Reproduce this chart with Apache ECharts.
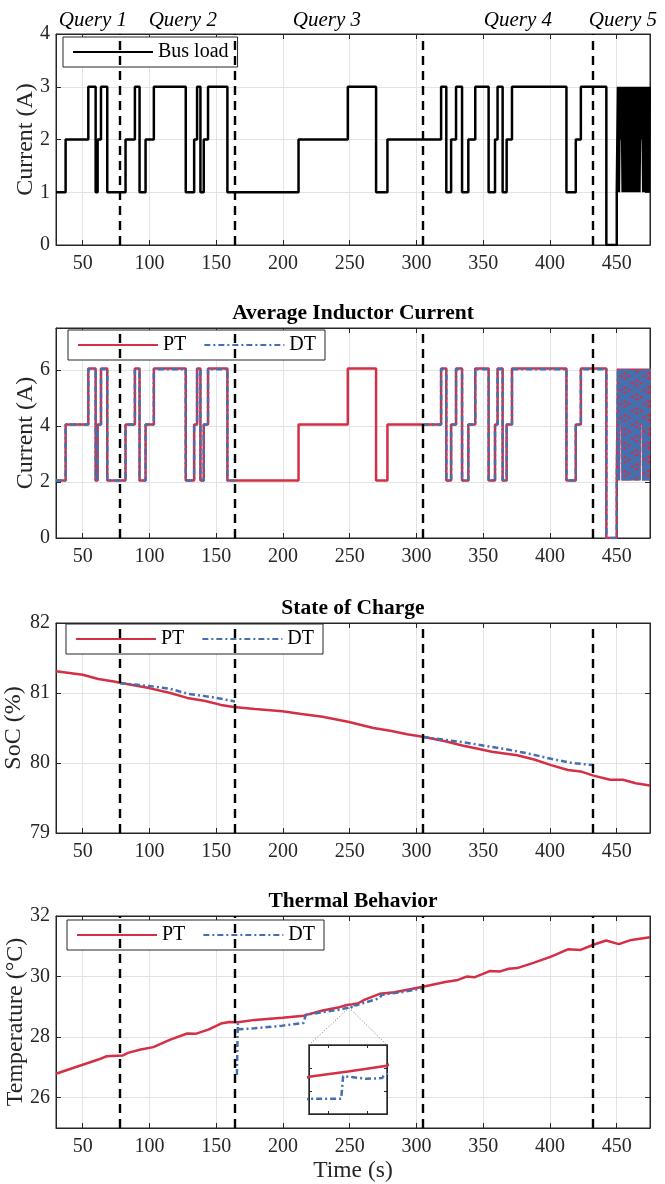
<!DOCTYPE html>
<html>
<head>
<meta charset="utf-8">
<script src="https://cdn.jsdelivr.net/npm/echarts@6/dist/echarts.min.js"></script>
<style>
html, body { margin: 0; padding: 0; background: #fff; }
#chart { width: 665px; height: 1184px; }
</style>
</head>
<body>
<div id="chart"></div>
<script>
// query boundaries (s) and labels
const queryBounds = [78, 164, 305, 432]
const queryNames = ['Query 1', 'Query 2', 'Query 3', 'Query 4', 'Query 5']
const queryLabelAt = [57.7, 125, 233, 376, 454.7]

// tick values
const xTicks = [50, 100, 150, 200, 250, 300, 350, 400, 450]
const loadTicks = [0, 1, 2, 3, 4]
const inductorTicks = [0, 2, 4, 6]
const socTicks = [79, 80, 81, 82]
const tempTicks = [26, 28, 30, 32]
const insetXTicks = [250, 254]
const insetYTicks = [29.0, 29.1]

// bus load, step changes (time, level)
const loadTime = [30, 37.2, 54.2, 59.7, 61.2, 63.7, 68.4, 82.1, 89.1, 92.6, 97.1, 103.3, 127.2, 133.5, 135.7, 138.2, 140.7, 143.9, 158.4,
  211.7, 248.6, 269.8, 278.3, 318.5, 322.4, 326.0, 329.7, 334.2, 338.9, 344.1, 354.1, 358.9, 360.8, 364.6, 367.6, 371.6, 412.4, 419.4, 423.2, 442.3, 450.1,
  451.0, 451.7, 452.4, 453.1, 453.8, 454.5, 455.2, 455.9, 456.6, 457.3, 458.0, 458.7, 459.4, 460.1, 460.8, 461.5, 462.2, 462.9,
  463.6, 464.3, 465.0, 465.7, 466.4, 467.1, 467.8, 468.5, 469.2, 469.9, 470.6, 471.3, 472.0, 472.7, 473.4, 474.1, 474.8, 475]
const loadLevel = [1, 2, 3, 1, 2, 3, 1, 2, 3, 1, 2, 3, 1, 2, 3, 1, 2, 3, 1,
  2, 3, 1, 2, 3, 1, 2, 3, 1, 2, 3, 1, 2, 3, 1, 2, 3, 1, 2, 3, 0, 1,
  3, 1, 3, 2, 3, 1, 3, 1, 3, 1, 3, 1, 3, 1, 3, 1, 3, 1,
  3, 1, 3, 1, 3, 1, 3, 2, 3, 1, 3, 1, 3, 1, 3, 1, 3, 3]

// average inductor current, PT (same switching instants as the load)
const inductorPT = [2.05, 4.05, 6.05, 2.05, 4.05, 6.05, 2.05, 4.05, 6.05, 2.05, 4.05, 6.05, 2.05, 4.05, 6.05, 2.05, 4.05, 6.05, 2.05,
  4.05, 6.05, 2.05, 4.05, 6.05, 2.05, 4.05, 6.05, 2.05, 4.05, 6.05, 2.05, 4.05, 6.05, 2.05, 4.05, 6.05, 2.05, 4.05, 6.05, 0, 2.05,
  6.05, 2.05, 6.05, 4.05, 6.05, 2.05, 6.05, 2.05, 6.05, 2.05, 6.05, 2.05, 6.05, 2.05, 6.05, 2.05, 6.05, 2.05,
  6.05, 2.05, 6.05, 2.05, 6.05, 2.05, 6.05, 4.05, 6.05, 2.05, 6.05, 2.05, 6.05, 2.05, 6.05, 2.05, 6.05, 6.05]

// average inductor current, DT (only inside the twin-active windows)
const inductorDTTime = [30, 37.2, 54.2, 59.7, 61.2, 63.7, 68.4, 82.1, 89.1, 92.6, 97.1, 103.3, 127.2, 133.5, 135.7, 138.2, 140.7, 143.9, 158.4, 164,
  164,
  305, 318.5, 322.4, 326.0, 329.7, 334.2, 338.9, 344.1, 354.1, 358.9, 360.8, 364.6, 367.6, 371.6, 412.4, 419.4, 423.2, 442.3, 450.1,
  451.0, 451.7, 452.4, 453.1, 453.8, 454.5, 455.2, 455.9, 456.6, 457.3, 458.0, 458.7, 459.4, 460.1, 460.8, 461.5, 462.2, 462.9,
  463.6, 464.3, 465.0, 465.7, 466.4, 467.1, 467.8, 468.5, 469.2, 469.9, 470.6, 471.3, 472.0, 472.7, 473.4, 474.1, 474.8, 475]
const inductorDT = [2.05, 4.05, 6.03, 2.05, 4.05, 6.03, 2.05, 4.05, 6.03, 2.05, 4.05, 6.03, 2.05, 4.05, 6.03, 2.05, 4.05, 6.03, 2.05, 2.05,
  null,
  4.05, 6.03, 2.05, 4.05, 6.03, 2.05, 4.05, 6.03, 2.05, 4.05, 6.03, 2.05, 4.05, 6.03, 2.05, 4.05, 6.03, 0, 2.05,
  6.03, 2.05, 6.03, 4.05, 6.03, 2.05, 6.03, 2.05, 6.03, 2.05, 6.03, 2.05, 6.03, 2.05, 6.03, 2.05, 6.03, 2.05,
  6.03, 2.05, 6.03, 2.05, 6.03, 2.05, 6.03, 4.05, 6.03, 2.05, 6.03, 2.05, 6.03, 2.05, 6.03, 2.05, 6.03, 6.03]

// state of charge (%)
const socTime = [30, 50, 61.7, 74.4, 79.8, 99.8, 115.6, 128.3, 141, 153.6, 163.2, 179, 199.6, 213.9, 229.7, 248.7, 267.8, 280.4, 293.1,
  305.8, 321.6, 334.3, 347, 356.5, 375.5, 388.2, 400.9, 413.5, 423, 432.6, 445.2, 454.7, 464.3, 475]
const socPT = [81.31, 81.26, 81.20, 81.16, 81.14, 81.07, 81.00, 80.93, 80.89, 80.83, 80.80, 80.77, 80.74, 80.70, 80.66, 80.59, 80.50, 80.46, 80.41,
  80.37, 80.31, 80.25, 80.20, 80.16, 80.11, 80.05, 79.97, 79.90, 79.88, 79.82, 79.76, 79.76, 79.71, 79.68]
const socDTTime = [78, 99.8, 115.6, 128.3, 147.3, 164, 234, 305, 321.6, 337.5, 353.3, 369.2, 385, 400.9, 416.7, 432.6]
const socDT = [81.14, 81.10, 81.06, 80.99, 80.94, 80.88, null, 80.37, 80.33, 80.29, 80.24, 80.19, 80.13, 80.06, 80.00, 79.97]

// temperature (°C)
const tempTime = [30, 50, 61.7, 68, 79.8, 83.9, 93.4, 102.9, 115.6, 128.3, 134.6, 144.1, 153.6, 160, 166.3, 179, 199.6, 215.5, 229.7,
  242.4, 248, 252, 256, 261.4, 272.5, 283.6, 305.8, 321.6, 331.1, 337.5, 343.8, 354.9, 362.8, 369.2, 375.5, 388.2, 400.9,
  413.5, 423, 432.6, 442.1, 451.6, 461.1, 475]
const tempPT = [26.79, 27.09, 27.26, 27.37, 27.39, 27.48, 27.59, 27.67, 27.92, 28.12, 28.11, 28.25, 28.45, 28.50, 28.49, 28.57, 28.64, 28.71, 28.88,
  28.99, 29.062, 29.085, 29.11, 29.24, 29.43, 29.48, 29.67, 29.82, 29.89, 30.00, 29.98, 30.18, 30.17, 30.26, 30.28, 30.46, 30.66,
  30.90, 30.88, 31.05, 31.19, 31.07, 31.21, 31.30]
const tempDTTime = [165.5, 166.2, 167, 179, 199.6, 215.5, 217.1, 229.7, 242.4, 248, 251.3, 251.5, 253.9, 255.5, 255.7, 272.5, 274.1, 290, 305.8]
const tempDT = [26.75, 28.45, 28.26, 28.29, 28.38, 28.47, 28.74, 28.82, 28.91, 28.966, 28.966, 29.065, 29.053, 29.056, 29.07, 29.29, 29.40, 29.49, 29.62]

// ---------------------------------------------------------------
const FONT = 'Liberation Serif'
const INK = '#262626'
const GRIDLINE = '#e3e3e3'
const RED = '#d42f45'
const BLUE = '#4570b0'
const DASHDOT = [6, 3, 2, 3]

const layout = [
    { left: 56, top: 34, width: 594, height: 211 },
    { left: 56, top: 328, width: 594, height: 210 },
    { left: 56, top: 623, width: 594, height: 210 },
    { left: 56, top: 916, width: 594, height: 212 },
]
const insetBox = { left: 309, top: 1045, width: 78, height: 69 }

const yRange = [[0, 4], [0, 7.5], [79, 82], [25, 32]]
const yTicks = [loadTicks, inductorTicks, socTicks, tempTicks]
const yNames = ['Current (A)', 'Current (A)', 'SoC (%)', 'Temperature (°C)']
const yNameGap = [18, 18, 30, 28]
const titles = ['', 'Average Inductor Current', 'State of Charge', 'Thermal Behavior']

const pairs = (xs, ys) => xs.map((x, i) => [x, ys[i] === null ? '-' : ys[i]])

let grids = layout.map(g => Object.assign({
    show: true, borderColor: INK, borderWidth: 1, containLabel: false, outerBoundsMode: 'none'
}, g))
grids.push(Object.assign({
    show: true, backgroundColor: '#fff', borderColor: '#333', borderWidth: 1.5, z: 10,
    containLabel: false, outerBoundsMode: 'none'
}, insetBox))

function axis (gi, pos, min, max, ticks, showLabel, split, z) {
    return {
        type: 'value', gridIndex: gi, position: pos, min: min, max: max, z: z,
        axisLine: { show: true, onZero: false, lineStyle: { color: INK, width: 1 } },
        axisTick: { show: true, inside: true, length: gi === 4 ? 3 : 5, customValues: ticks, lineStyle: { color: INK } },
        axisLabel: { show: showLabel, customValues: ticks, color: INK, fontSize: 20, fontFamily: FONT, margin: pos === 'bottom' ? 9 : 6 },
        splitLine: { show: split, lineStyle: { color: GRIDLINE, width: 1 } },
    }
}

let xAxes = []
let yAxes = []
for (let i = 0; i < 4; i++) {
    xAxes.push(axis(i, 'bottom', 30, 475, xTicks, true, true, 0))
    let y = axis(i, 'left', yRange[i][0], yRange[i][1], yTicks[i], true, true, 0)
    y.name = yNames[i]
    y.nameLocation = 'middle'
    y.nameGap = yNameGap[i]
    y.nameMoveOverlap = false
    y.nameTextStyle = { fontFamily: FONT, fontSize: 24, color: INK }
    yAxes.push(y)
}
xAxes[3].name = 'Time (s)'
xAxes[3].nameLocation = 'middle'
xAxes[3].nameGap = 31
xAxes[3].nameMoveOverlap = false
xAxes[3].nameTextStyle = { fontFamily: FONT, fontSize: 23.5, color: INK }
// inset axes
xAxes.push(axis(4, 'bottom', 248, 256, insetXTicks, false, false, 11))
yAxes.push(axis(4, 'left', 28.9, 29.2, insetYTicks, false, false, 11))
// mirrored axes (ticks on top / right, like a boxed plot)
for (let i = 0; i < 4; i++) {
    xAxes.push(axis(i, 'top', 30, 475, xTicks, false, false, 0))
    yAxes.push(axis(i, 'right', yRange[i][0], yRange[i][1], yTicks[i], false, false, 0))
}
xAxes.push(axis(4, 'top', 248, 256, insetXTicks, false, false, 11))
yAxes.push(axis(4, 'right', 28.9, 29.2, insetYTicks, false, false, 11))

const queryMarks = {
    silent: true,
    symbol: ['none', 'none'],
    label: { show: false },
    lineStyle: { color: '#000', type: [9, 6], width: 2.4 },
    data: queryBounds.map(b => ({ xAxis: b })),
}

function line (name, gi, data, color, dash, width, extra) {
    return Object.assign({
        name: name, type: 'line', xAxisIndex: gi, yAxisIndex: gi,
        data: data, symbol: 'none', showSymbol: false, clip: true,
        lineStyle: { color: color, width: width, type: dash },
        itemStyle: { color: color },
        emphasis: { disabled: true },
        silent: true,
    }, extra || {})
}

const series = [
    line('Bus load', 0, pairs(loadTime, loadLevel), '#000', 'solid', 2.5, { step: 'end', markLine: queryMarks }),
    line('PT', 1, pairs(loadTime, inductorPT), RED, 'solid', 2.5, { step: 'end', markLine: queryMarks }),
    line('DT', 1, pairs(inductorDTTime, inductorDT), BLUE, DASHDOT, 2.5, { step: 'end' }),
    line('PT', 2, pairs(socTime, socPT), RED, 'solid', 2.5, { markLine: queryMarks }),
    line('DT', 2, pairs(socDTTime, socDT), BLUE, DASHDOT, 2.5),
    line('PT', 3, pairs(tempTime, tempPT), RED, 'solid', 2.5, { markLine: queryMarks }),
    line('DT', 3, pairs(tempDTTime, tempDT), BLUE, DASHDOT, 2.5),
    line('PT', 4, pairs(tempTime, tempPT), RED, 'solid', 2.5, { z: 12 }),
    line('DT', 4, pairs(tempDTTime, tempDT), BLUE, DASHDOT, 2.5, { z: 12 }),
]

function legendAt (names, left, top) {
    return {
        data: names, left: left, top: top, orient: 'horizontal',
        itemWidth: 80, itemHeight: 14, itemGap: 17,
        padding: [5, 9, 5, 9],
        borderColor: INK, borderWidth: 1, borderRadius: 0, backgroundColor: '#fff',
        itemStyle: { opacity: 0 },
        textStyle: { fontFamily: FONT, fontSize: 20, color: '#000' },
        selectedMode: false,
    }
}

const option = {
    animation: false,
    backgroundColor: '#fff',
    textStyle: { fontFamily: FONT },
    grid: grids,
    xAxis: xAxes,
    yAxis: yAxes,
    legend: [
        legendAt(['Bus load'], 63, 37),
        legendAt(['PT', 'DT'], 68, 330),
        legendAt(['PT', 'DT'], 66, 624),
        legendAt(['PT', 'DT'], 67, 920),
    ],
    series: series,
}

let chart = echarts.init(document.getElementById('chart'))
chart.setOption(option)

// text and connector annotations, placed through the axes
const toPx = (gi, x, y) => chart.convertToPixel({ xAxisIndex: gi, yAxisIndex: gi }, [x, y])
let elements = []
queryNames.forEach((q, i) => {
    const p = toPx(0, queryLabelAt[i], 4)
    elements.push({
        type: 'text', x: p[0], y: layout[0].top - 14, z: 20,
        style: { text: q, font: 'italic 21px "Liberation Serif"', fill: '#000', align: 'center', verticalAlign: 'middle', textAlign: 'center', textVerticalAlign: 'middle' },
    })
})
titles.forEach((t, i) => {
    if (!t) return
    elements.push({
        type: 'text', x: layout[i].left + layout[i].width / 2, y: layout[i].top - 15, z: 20,
        style: { text: t, font: 'bold 21.5px "Liberation Serif"', fill: '#000', align: 'center', verticalAlign: 'middle', textAlign: 'center', textVerticalAlign: 'middle' },
    })
})
const apex = toPx(3, 249.5, 28.97)
;[insetBox.left, insetBox.left + insetBox.width].forEach(cx => {
    elements.push({
        type: 'line', z: 20, silent: true,
        shape: { x1: apex[0], y1: apex[1], x2: cx, y2: insetBox.top },
        style: { stroke: '#777', lineWidth: 1, lineDash: [1, 2] },
    })
})
chart.setOption({ graphic: { elements: elements } })
</script>
</body>
</html>
